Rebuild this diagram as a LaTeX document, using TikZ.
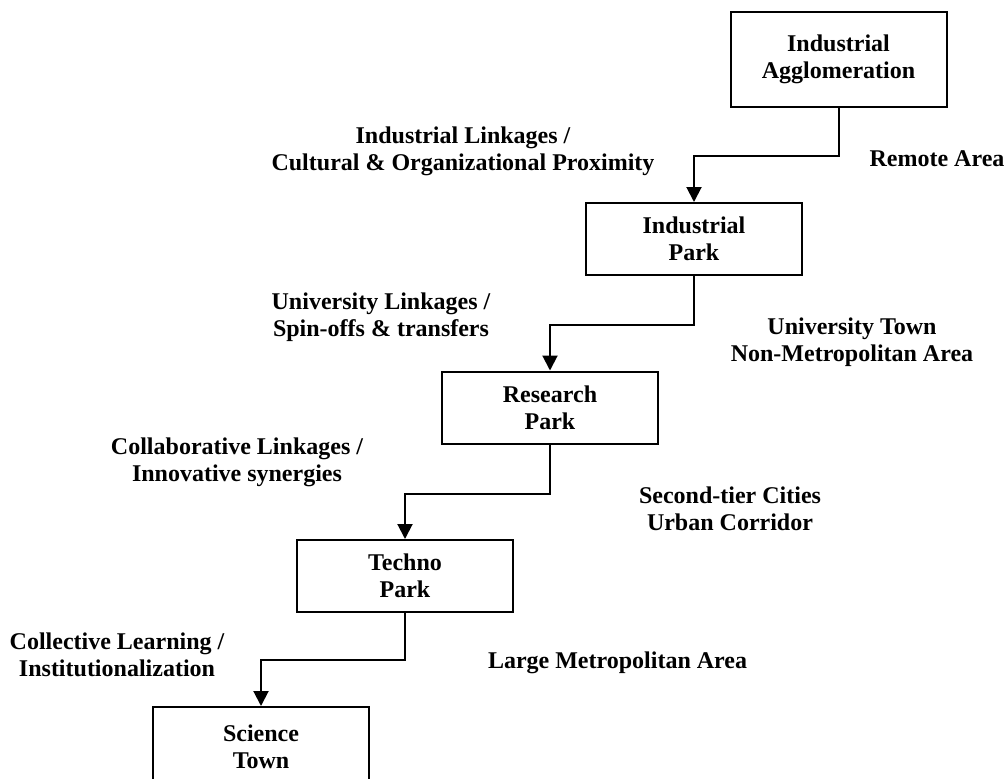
\documentclass[tikz,border=0pt]{standalone}
\usepackage{fontspec}
\setmainfont{Liberation Serif}
\usetikzlibrary{arrows.meta}
\begin{document}
\begin{tikzpicture}[x=0.5pt,y=-0.5pt,line width=1pt,
  every node/.style={font=\bfseries\fontsize{12}{13.5}\selectfont,align=center},
  stage/.style={draw,minimum width=108pt,minimum height=36pt,inner sep=2pt},
  flow/.style={-{Triangle[length=7.5pt,width=7.5pt]}}]
 \clip (0,0) rectangle (1008,778);
 \node[stage,minimum height=47.5pt] (agglo) at (838.5,59.5) {Industrial\\Agglomeration};
 \node[stage] (indpark) at (694,239) {Industrial\\Park};
 \node[stage] (respark) at (550,407.5) {Research\\Park};
 \node[stage] (techpark) at (405,576) {Techno\\Park};
 \node[stage,minimum height=40pt] (scitown) at (261,747) {Science\\Town};
 \draw[flow] (agglo.south) -- ++(0,48) -| (indpark.north);
 \draw[flow] (indpark.south) -- ++(0,49) -| (respark.north);
 \draw[flow] (respark.south) -- ++(0,49) -| (techpark.north);
 \draw[flow] (techpark.south) -- ++(0,47) -| (scitown.north);
 \node (indlink) at (463,151) {Industrial Linkages /\\Cultural \& Organizational Proximity};
 \node (unilink) at (381,317) {University Linkages /\\Spin-offs \& transfers};
 \node (collab) at (237,462) {Collaborative Linkages /\\Innovative synergies};
 \node (learn) at (117,655) {Collective Learning /\\Institutionalization};
 \node[anchor=base] (remote) at (937,166) {Remote Area};
 \node (unitown) at (852,342) {University Town\\Non-Metropolitan Area};
 \node (second) at (730,509) {Second-tier Cities\\Urban Corridor};
 \node[anchor=base west,inner sep=0pt] (metro) at (487,668) {Large Metropolitan Area};
\end{tikzpicture}
\end{document}
